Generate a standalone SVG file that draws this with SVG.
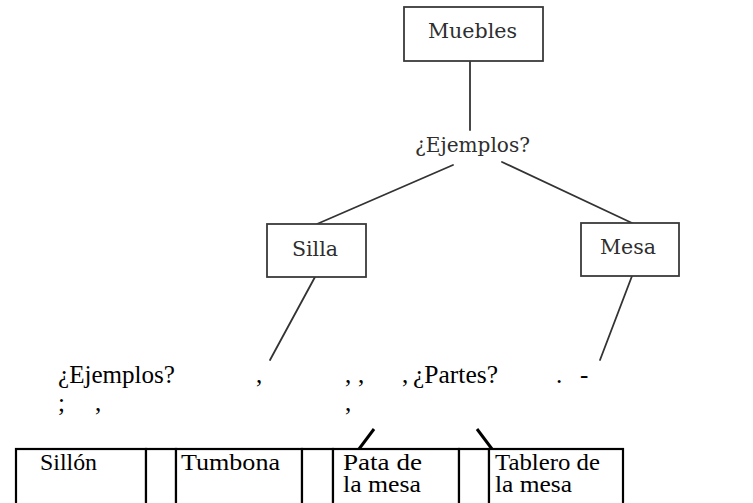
<svg xmlns="http://www.w3.org/2000/svg" width="753" height="503" viewBox="0 0 753 503">
<style>
.sbox{fill:#fff;stroke:#3a3a3a;stroke-width:1.8}
.stxt{font-family:'DejaVu Serif','Liberation Serif',serif;font-size:20px;fill:#2e2e2e}
.sline{stroke:#333;stroke-width:1.8;fill:none;stroke-linecap:round}
.btxt{font-family:'Liberation Serif','Times New Roman',serif;font-size:25px;fill:#000}
.ctxt{font-family:'Liberation Serif','Times New Roman',serif;font-size:23px;fill:#000}
.cell{fill:#fff;stroke:#000;stroke-width:2.2}
.bline{stroke:#000;stroke-width:3;fill:none}
</style>
<rect width="753" height="503" fill="#fff"/>
<g id="connectors">
<line class="sline" x1="470" y1="61" x2="470" y2="130"/>
<line class="sline" x1="453" y1="165" x2="317" y2="224"/>
<line class="sline" x1="502" y1="162" x2="632" y2="223"/>
<line class="sline" x1="315" y1="277" x2="270" y2="360"/>
<line class="sline" x1="632" y1="276" x2="600" y2="360"/>
<line class="bline" x1="374" y1="429" x2="359" y2="449"/>
<line class="bline" x1="477" y1="429" x2="492" y2="449"/>
</g>
<g id="muebles">
<rect class="sbox" x="404" y="7" width="139" height="54"/>
<text class="stxt" x="428" y="38" textLength="89" lengthAdjust="spacingAndGlyphs">Muebles</text>
</g>
<g id="ejemplos-top">
<text class="stxt" x="415" y="152" textLength="115" lengthAdjust="spacingAndGlyphs">¿Ejemplos?</text>
</g>
<g id="silla">
<rect class="sbox" x="267" y="224" width="99" height="53"/>
<text class="stxt" x="292" y="256" textLength="46" lengthAdjust="spacingAndGlyphs">Silla</text>
</g>
<g id="mesa">
<rect class="sbox" x="581" y="223" width="98" height="53"/>
<text class="stxt" x="600" y="254" textLength="56" lengthAdjust="spacingAndGlyphs">Mesa</text>
</g>
<g id="caption">
<text class="btxt" x="58" y="383" textLength="117" lengthAdjust="spacingAndGlyphs">¿Ejemplos?</text>
<text class="btxt" x="256" y="383">,</text>
<text class="btxt" x="345" y="383">,</text>
<text class="btxt" x="358" y="383">,</text>
<text class="btxt" x="402" y="383">,</text>
<text class="btxt" x="413" y="383" textLength="85" lengthAdjust="spacingAndGlyphs">¿Partes?</text>
<text class="btxt" x="556" y="383">.</text>
<text class="btxt" x="580" y="383">-</text>
<text class="btxt" x="58" y="411">;</text>
<text class="btxt" x="95" y="411">,</text>
<text class="btxt" x="345" y="411">,</text>
</g>
<g id="cell-sillon">
<rect class="cell" x="16" y="449" width="130" height="70"/>
<text class="ctxt" x="40" y="470" textLength="57" lengthAdjust="spacingAndGlyphs">Sillón</text>
</g>
<g id="cell-gap1"><rect class="cell" x="146" y="449" width="30" height="70"/></g>
<g id="cell-tumbona">
<rect class="cell" x="176" y="449" width="126" height="70"/>
<text class="ctxt" x="181" y="470" textLength="99" lengthAdjust="spacingAndGlyphs">Tumbona</text>
</g>
<g id="cell-gap2"><rect class="cell" x="302" y="449" width="31" height="70"/></g>
<g id="cell-pata">
<rect class="cell" x="333" y="449" width="126" height="70"/>
<text class="ctxt"><tspan x="343" y="470" textLength="79" lengthAdjust="spacingAndGlyphs">Pata de</tspan><tspan x="343" y="492" textLength="78" lengthAdjust="spacingAndGlyphs">la mesa</tspan></text>
</g>
<g id="cell-gap3"><rect class="cell" x="459" y="449" width="30" height="70"/></g>
<g id="cell-tablero">
<rect class="cell" x="489" y="449" width="134" height="70"/>
<text class="ctxt"><tspan x="495" y="470" textLength="105" lengthAdjust="spacingAndGlyphs">Tablero de</tspan><tspan x="495" y="492" textLength="77" lengthAdjust="spacingAndGlyphs">la mesa</tspan></text>
</g>
</svg>
